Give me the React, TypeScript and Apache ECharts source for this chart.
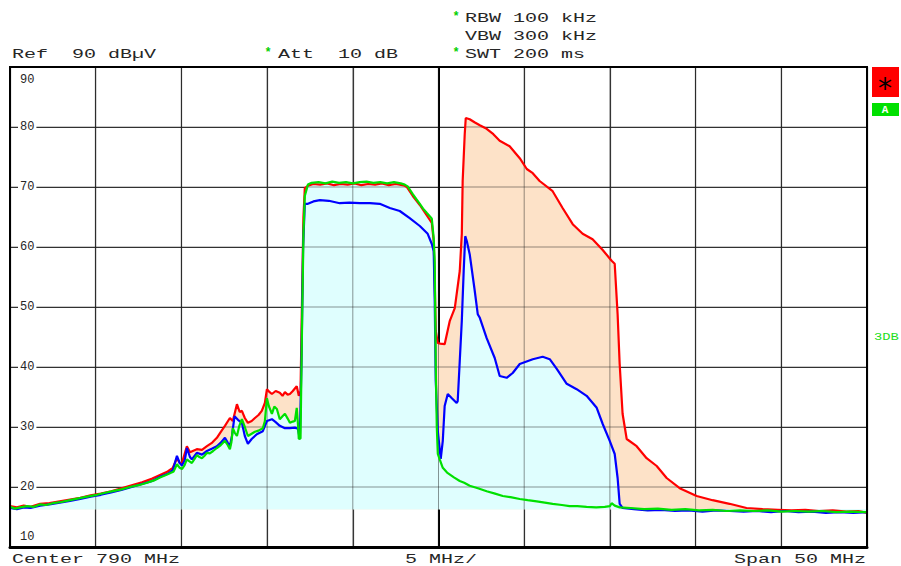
import React, { useEffect, useRef } from "react";
import * as echarts from "echarts";

// Sweep settings (MHz / dBµV)
const startFreq = 765;
const stopFreq = 815;
const freqPerDiv = 5;
const refLevel = 90;
const bottomLevel = 10;
const dbPerDiv = 10;
const freqTicks = [765, 770, 775, 780, 785, 790, 795, 800, 805, 810, 815];
const levelTicks = [10, 20, 30, 40, 50, 60, 70, 80, 90];
const fillFloor = 16.3;

// Trace 1 (max hold) – red
const redTrace: [number, number][] = [
  [765.0, 16.8], [765.4, 16.6], [765.8, 16.9], [766.2, 16.7], [766.75, 17.2], [767.3, 17.3],
  [767.9, 17.6], [768.5, 17.9], [769.1, 18.2], [769.7, 18.6], [770.3, 18.9], [770.9, 19.3],
  [771.5, 19.8], [772.1, 20.3], [772.7, 20.8], [773.3, 21.4], [773.75, 22.0], [774.2, 22.6],
  [774.5, 23.2], [774.74, 24.8], [774.9, 24.0], [775.03, 24.0], [775.32, 26.8], [775.5, 25.8],
  [775.9, 26.3], [776.2, 26.2], [776.49, 26.8], [776.8, 27.4], [777.07, 28.2], [777.3, 29.2],
  [777.54, 30.2], [777.83, 31.5], [778.0, 31.0], [778.24, 33.8], [778.4, 32.5], [778.53, 32.7],
  [778.7, 31.5], [778.88, 30.7], [779.1, 31.0], [779.29, 31.5], [779.5, 32.0], [779.69, 32.7],
  [779.87, 34.0], [779.99, 36.3], [780.15, 35.8], [780.28, 35.5], [780.5, 36.0], [780.74, 35.7],
  [780.9, 35.2], [781.04, 35.8], [781.2, 35.4], [781.33, 35.5], [781.5, 36.0], [781.73, 36.8],
  [781.85, 35.2], [781.95, 36.0], [782.03, 50.0], [782.12, 65.0], [782.2, 69.8], [782.38, 70.2],
  [782.7, 70.5], [783.1, 70.4], [783.5, 70.6], [783.9, 70.3], [784.3, 70.5], [784.7, 70.4],
  [785.1, 70.6], [785.5, 70.3], [785.9, 70.5], [786.3, 70.4], [786.7, 70.6], [787.1, 70.3],
  [787.5, 70.5], [787.9, 70.3], [788.03, 70.2], [788.15, 70.0], [788.5, 68.5], [788.91, 67.0],
  [789.31, 65.3], [789.61, 64.0], [789.72, 61.0], [789.78, 54.3], [789.84, 46.0], [789.96, 44.0],
  [790.1, 43.9], [790.36, 43.8], [790.66, 47.7], [790.95, 49.8], [791.24, 56.0], [791.36, 62.2],
  [791.41, 71.0], [791.53, 78.8], [791.59, 81.5], [791.82, 81.3], [792.1, 80.8], [792.41, 80.3],
  [792.81, 79.7], [793.2, 78.8], [793.57, 77.7], [794.15, 76.8], [794.74, 74.8], [795.15, 73.0],
  [795.5, 72.3], [795.9, 71.0], [796.66, 69.3], [797.24, 66.5], [797.83, 63.8], [798.41, 62.2],
  [798.99, 61.3], [799.58, 59.5], [800.1, 57.7], [800.28, 57.2], [800.45, 48.8], [800.57, 40.5],
  [800.74, 32.2], [800.98, 28.0], [801.56, 26.8], [802.14, 24.8], [802.73, 23.5], [803.31, 21.5],
  [804.07, 19.8], [805.06, 18.5], [805.99, 17.8], [806.98, 17.2], [807.97, 16.5], [808.91, 16.3],
  [809.8, 16.2], [810.6, 16.1], [811.4, 16.2], [812.2, 16.0], [813.0, 16.1], [813.8, 15.9],
  [814.5, 16.0], [815.0, 15.7],
];

// Trace 2 (average) – blue
const blueTrace: [number, number][] = [
  [765.0, 16.5], [765.4, 16.3], [765.8, 16.6], [766.2, 16.5], [766.75, 16.9], [767.3, 17.1],
  [767.9, 17.4], [768.5, 17.7], [769.1, 18.0], [769.7, 18.4], [770.3, 18.7], [770.9, 19.1],
  [771.5, 19.5], [772.1, 20.0], [772.7, 20.5], [773.3, 21.0], [773.75, 21.7], [774.2, 22.2],
  [774.5, 22.8], [774.74, 25.2], [774.9, 24.0], [775.03, 23.6], [775.2, 24.5], [775.32, 26.5],
  [775.5, 25.0], [775.61, 24.6], [775.9, 25.7], [776.2, 25.4], [776.49, 26.0], [776.8, 26.4],
  [777.07, 26.8], [777.3, 27.4], [777.54, 28.2], [777.7, 27.4], [777.83, 26.8], [777.95, 28.5],
  [778.1, 31.8], [778.3, 31.2], [778.53, 30.7], [778.7, 28.5], [778.88, 27.2], [779.1, 28.0],
  [779.4, 28.8], [779.75, 29.3], [779.99, 31.0], [780.28, 31.3], [780.5, 30.8], [780.74, 30.2],
  [781.04, 29.8], [781.33, 29.8], [781.62, 29.9], [781.8, 29.7], [781.91, 28.0], [782.0, 40.0],
  [782.1, 60.0], [782.2, 67.2], [782.38, 67.2], [782.7, 67.6], [783.08, 67.8], [783.6, 67.7],
  [784.24, 67.3], [784.8, 67.4], [785.41, 67.3], [786.0, 67.3], [786.57, 67.2], [787.16, 66.5],
  [787.74, 66.0], [788.32, 64.8], [788.91, 63.5], [789.37, 62.2], [789.61, 60.5], [789.72, 59.3],
  [789.78, 51.0], [789.84, 37.7], [789.96, 29.3], [790.13, 24.7], [790.25, 27.7], [790.36, 33.5],
  [790.54, 35.5], [790.78, 34.8], [791.06, 34.0], [791.12, 34.3], [791.24, 41.0], [791.36, 47.7],
  [791.47, 56.0], [791.56, 61.8], [791.65, 61.0], [791.82, 58.8], [792.1, 53.0], [792.29, 48.8],
  [792.41, 48.2], [792.81, 44.8], [793.28, 41.5], [793.57, 38.5], [793.98, 38.2], [794.33, 39.0],
  [794.74, 40.5], [795.5, 41.3], [796.08, 41.7], [796.49, 41.3], [796.9, 39.7], [797.48, 37.2],
  [798.06, 36.3], [798.64, 35.2], [799.23, 33.2], [799.58, 30.5], [799.99, 27.7], [800.28, 25.5],
  [800.45, 21.5], [800.57, 17.2], [800.74, 16.5], [801.4, 16.3], [802.2, 16.1], [803.0, 16.2],
  [803.8, 16.0], [804.6, 16.1], [805.4, 15.9], [806.2, 16.1], [807.0, 16.0], [807.8, 15.9],
  [808.6, 16.0], [809.4, 15.8], [810.2, 16.0], [811.0, 15.8], [811.8, 15.9], [812.6, 15.7],
  [813.4, 15.8], [814.2, 15.7], [815.0, 15.8],
];

// Trace 3 (clear/write) – green
const greenTrace: [number, number][] = [
  [765.0, 16.7], [765.3, 16.4], [765.6, 16.6], [766.0, 16.8], [766.4, 16.7], [766.75, 17.1],
  [767.1, 17.0], [767.5, 17.3], [768.0, 17.5], [768.5, 17.8], [769.0, 18.1], [769.5, 18.4],
  [770.07, 18.7], [770.5, 19.0], [771.0, 19.3], [771.5, 19.6], [772.0, 20.0], [772.5, 20.3],
  [773.0, 20.7], [773.4, 21.1], [773.75, 21.6], [774.1, 22.0], [774.33, 22.3], [774.55, 22.6],
  [774.74, 23.8], [774.9, 23.2], [775.03, 23.0], [775.18, 23.6], [775.32, 24.6], [775.45, 24.3],
  [775.61, 24.0], [775.75, 24.6], [775.9, 25.3], [776.05, 25.0], [776.2, 24.8], [776.35, 25.2],
  [776.49, 25.7], [776.66, 25.6], [776.85, 26.0], [777.07, 26.5], [777.3, 27.0], [777.54, 27.7],
  [777.7, 27.0], [777.83, 26.3], [777.92, 27.5], [778.0, 29.8], [778.12, 29.0], [778.24, 28.5],
  [778.38, 30.2], [778.53, 31.3], [778.7, 30.0], [778.88, 28.5], [779.05, 28.8], [779.29, 29.2],
  [779.5, 29.4], [779.75, 29.8], [779.87, 31.0], [779.99, 34.8], [780.1, 33.5], [780.28, 32.2],
  [780.42, 33.4], [780.57, 33.0], [780.74, 31.3], [780.9, 31.8], [781.04, 32.2], [781.2, 31.4],
  [781.33, 30.7], [781.5, 30.9], [781.62, 31.0], [781.73, 33.2], [781.8, 30.5], [781.85, 28.0],
  [781.95, 28.1], [782.03, 45.0], [782.12, 62.0], [782.2, 68.5], [782.38, 70.4], [782.6, 70.7],
  [783.0, 70.8], [783.4, 70.6], [783.8, 70.9], [784.2, 70.7], [784.6, 70.8], [785.0, 70.6],
  [785.4, 70.8], [785.8, 70.9], [786.2, 70.7], [786.6, 70.8], [787.0, 70.6], [787.4, 70.8],
  [787.8, 70.6], [788.03, 70.4], [788.2, 70.1], [788.5, 68.8], [788.7, 68.0], [788.91, 67.2],
  [789.1, 66.4], [789.31, 65.7], [789.5, 65.1], [789.61, 64.7], [789.72, 61.5], [789.78, 57.7],
  [789.84, 40.0], [789.9, 30.0], [789.96, 25.5], [790.07, 24.6], [790.25, 23.2], [790.5, 22.4],
  [790.9, 21.6], [791.24, 21.0], [791.5, 20.7], [791.82, 20.2], [792.3, 19.8], [792.81, 19.3],
  [793.3, 18.9], [793.75, 18.5], [794.2, 18.3], [794.74, 18.0], [795.2, 17.8], [795.73, 17.6],
  [796.2, 17.4], [796.66, 17.2], [797.2, 17.0], [797.65, 16.8], [798.1, 16.8], [798.64, 16.7],
  [799.2, 16.6], [799.7, 16.7], [800.0, 16.8], [800.1, 17.3], [800.28, 16.9], [800.57, 16.6],
  [801.2, 16.5], [802.0, 16.3], [802.8, 16.4], [803.6, 16.2], [804.4, 16.3], [805.2, 16.1],
  [806.0, 16.2], [806.8, 16.0], [807.6, 16.1], [808.4, 16.0], [809.2, 16.1], [810.0, 15.9],
  [810.8, 16.0], [811.6, 15.9], [812.4, 16.0], [813.2, 15.8], [814.0, 15.9], [815.0, 15.8],
];

const headerLines = [
  { star: true, text: "RBW 100 kHz" },
  { star: false, text: "VBW 300 kHz" },
  { star: true, text: "SWT 200 ms" },
];

const MONO = "'Liberation Mono', 'DejaVu Sans Mono', monospace";
const TEXT_COLOR = "#262626";
const STAR_GREEN = "#00d000";
const FILL_HOLD = "#fde2c8";
const FILL_LIVE = "#dffefe";

// Area under one trace, down to the display floor (line itself not stroked)
function areaSeries(trace: [number, number][], fill: string, z: number) {
  return {
    type: "line",
    xAxisIndex: 0,
    yAxisIndex: 0,
    data: trace,
    z,
    silent: true,
    symbol: "none",
    showSymbol: false,
    clip: true,
    lineStyle: { width: 0, opacity: 0 },
    areaStyle: { color: fill, opacity: 1, origin: fillFloor },
  };
}

// Graticule segments laid over the filled areas (toned down so they read as dotted)
function graticuleSeries(z: number) {
  const style = { color: "rgba(20,20,20,0.45)", width: 1, type: "solid" };
  const vertical = freqTicks.slice(1, -1).map((f) => ({
    type: "line",
    xAxisIndex: 0,
    yAxisIndex: 0,
    z,
    silent: true,
    symbol: "none",
    showSymbol: false,
    clip: false,
    data: [[f, bottomLevel], [f, refLevel]],
    lineStyle: style,
  }));
  const horizontal = levelTicks.slice(1, -1).map((l) => ({
    type: "line",
    xAxisIndex: 0,
    yAxisIndex: 0,
    z,
    silent: true,
    symbol: "none",
    showSymbol: false,
    clip: false,
    data: [[startFreq, l], [stopFreq, l]],
    lineStyle: style,
  }));
  return [...vertical, ...horizontal];
}

function traceSeries(trace: [number, number][], color: string, z: number) {
  return {
    type: "line",
    xAxisIndex: 0,
    yAxisIndex: 0,
    data: trace,
    z,
    silent: true,
    symbol: "none",
    showSymbol: false,
    clip: true,
    lineStyle: { color, width: 2.2 },
  };
}

function monoText(x: number, y: number, text: string, opts: any = {}) {
  return {
    type: "text",
    x,
    y,
    scaleX: opts.scaleX ?? 1.54,
    silent: true,
    z: 20,
    style: {
      text,
      fill: opts.fill ?? TEXT_COLOR,
      font: `${opts.weight ?? "normal"} ${opts.size ?? 13}px ${MONO}`,
      textAlign: opts.align ?? "left",
      verticalAlign: "middle",
    },
  };
}

function star(x: number, y: number) {
  return {
    type: "text",
    x,
    y,
    silent: true,
    z: 20,
    style: {
      text: "*",
      fill: STAR_GREEN,
      font: `bold 12px ${MONO}`,
      textAlign: "center",
      verticalAlign: "middle",
    },
  };
}

export default function App() {
  const ref = useRef<HTMLDivElement>(null);

  useEffect(() => {
    if (!ref.current) return;
    const chart = echarts.init(ref.current, null, { renderer: "svg" });

    const yBase = {
      type: "value",
      position: "left",
      min: bottomLevel,
      max: refLevel,
      interval: dbPerDiv,
      axisTick: { show: false },
      axisLine: { show: false },
    };

    const graphics: any[] = [
      monoText(12, 55, `Ref  ${refLevel} dBµV`),
      star(268, 53),
      monoText(278, 55, "Att  10 dB"),
      monoText(12, 560, `Center ${(startFreq + stopFreq) / 2} MHz`),
      monoText(405, 560, `${freqPerDiv} MHz/`),
      monoText(866, 560, `Span ${stopFreq - startFreq} MHz`, { align: "right" }),
      {
        type: "rect",
        silent: true,
        z: 20,
        shape: { x: 872, y: 67, width: 27, height: 30 },
        style: { fill: "#ff0000" },
      },
      {
        type: "text",
        x: 885,
        y: 88,
        silent: true,
        z: 21,
        style: {
          text: "*",
          fill: "#000",
          font: "28px 'DejaVu Sans', sans-serif",
          textAlign: "center",
          verticalAlign: "middle",
        },
      },
      {
        type: "rect",
        silent: true,
        z: 20,
        shape: { x: 872, y: 103, width: 27, height: 13 },
        style: { fill: "#00e000" },
      },
      {
        type: "text",
        x: 885,
        y: 110,
        silent: true,
        z: 21,
        style: {
          text: "A",
          fill: "#fff",
          font: `bold 11px ${MONO}`,
          textAlign: "center",
          verticalAlign: "middle",
        },
      },
      monoText(874, 337, "3DB", { fill: "#22dd22", size: 11, scaleX: 1.25 }),
    ];
    headerLines.forEach((line, i) => {
      const y = 19 + i * 18;
      if (line.star) graphics.push(star(456, y - 2));
      graphics.push(monoText(465, y, line.text));
    });

    chart.setOption({
      animation: false,
      backgroundColor: "#ffffff",
      grid: {
        left: 10,
        top: 67,
        width: 857,
        height: 480,
        show: true,
        borderColor: "#000",
        borderWidth: 2,
        backgroundColor: "transparent",
        z: 6,
      },
      xAxis: [
        {
          type: "value",
          min: startFreq,
          max: stopFreq,
          interval: freqPerDiv,
          axisLabel: { show: false },
          axisTick: { show: false },
          z: 0,
          axisLine: { show: true, lineStyle: { color: "#000", width: 3 } },
          splitLine: { show: true, lineStyle: { color: "#3c3c3c", width: 1.2 } },
        },
      ],
      yAxis: [
        {
          ...yBase,
          z: 0,
          axisLabel: { show: false },
          splitLine: { show: true, lineStyle: { color: "#3c3c3c", width: 1.2 } },
        },
        {
          ...yBase,
          z: 8,
          splitLine: { show: false },
          axisLabel: {
            show: true,
            inside: true,
            margin: 8,
            showMinLabel: true,
            showMaxLabel: true,
            formatter: (v: number) => {
              if (!levelTicks.includes(v)) return "";
              if (v === refLevel) return `{top|${v}}`;
              if (v === bottomLevel) return `{bot|${v}}`;
              return `{n|${v}}`;
            },
            rich: {
              n: {
                fontFamily: MONO,
                fontSize: 12,
                color: TEXT_COLOR,
                backgroundColor: "#ffffff",
                padding: [0, 2],
              },
              top: {
                fontFamily: MONO,
                fontSize: 12,
                color: TEXT_COLOR,
                padding: [26, 2, 0, 2],
              },
              bot: {
                fontFamily: MONO,
                fontSize: 12,
                color: TEXT_COLOR,
                padding: [0, 2, 20, 2],
              },
            },
          },
        },
      ],
      series: [
        {
          type: "line",
          xAxisIndex: 0,
          yAxisIndex: 0,
          data: [],
          z: 0,
          silent: true,
          markLine: {
            silent: true,
            symbol: "none",
            z: 0,
            animation: false,
            label: { show: false },
            lineStyle: { color: "#000", width: 2, type: "solid" },
            data: [{ xAxis: (startFreq + stopFreq) / 2 }],
          },
        },
        areaSeries(redTrace, FILL_HOLD, 1),
        areaSeries(blueTrace, FILL_LIVE, 2),
        areaSeries(greenTrace, FILL_LIVE, 2),
        ...graticuleSeries(3),
        traceSeries(redTrace, "#ff0000", 4),
        traceSeries(blueTrace, "#0000ff", 4),
        traceSeries(greenTrace, "#00e000", 5),
      ],
      graphic: graphics,
    });

    return () => chart.dispose();
  }, []);

  return (
    <div
      ref={ref}
      style={{ position: "fixed", left: 0, top: 0, width: 901, height: 566, background: "#fff" }}
    />
  );
}
